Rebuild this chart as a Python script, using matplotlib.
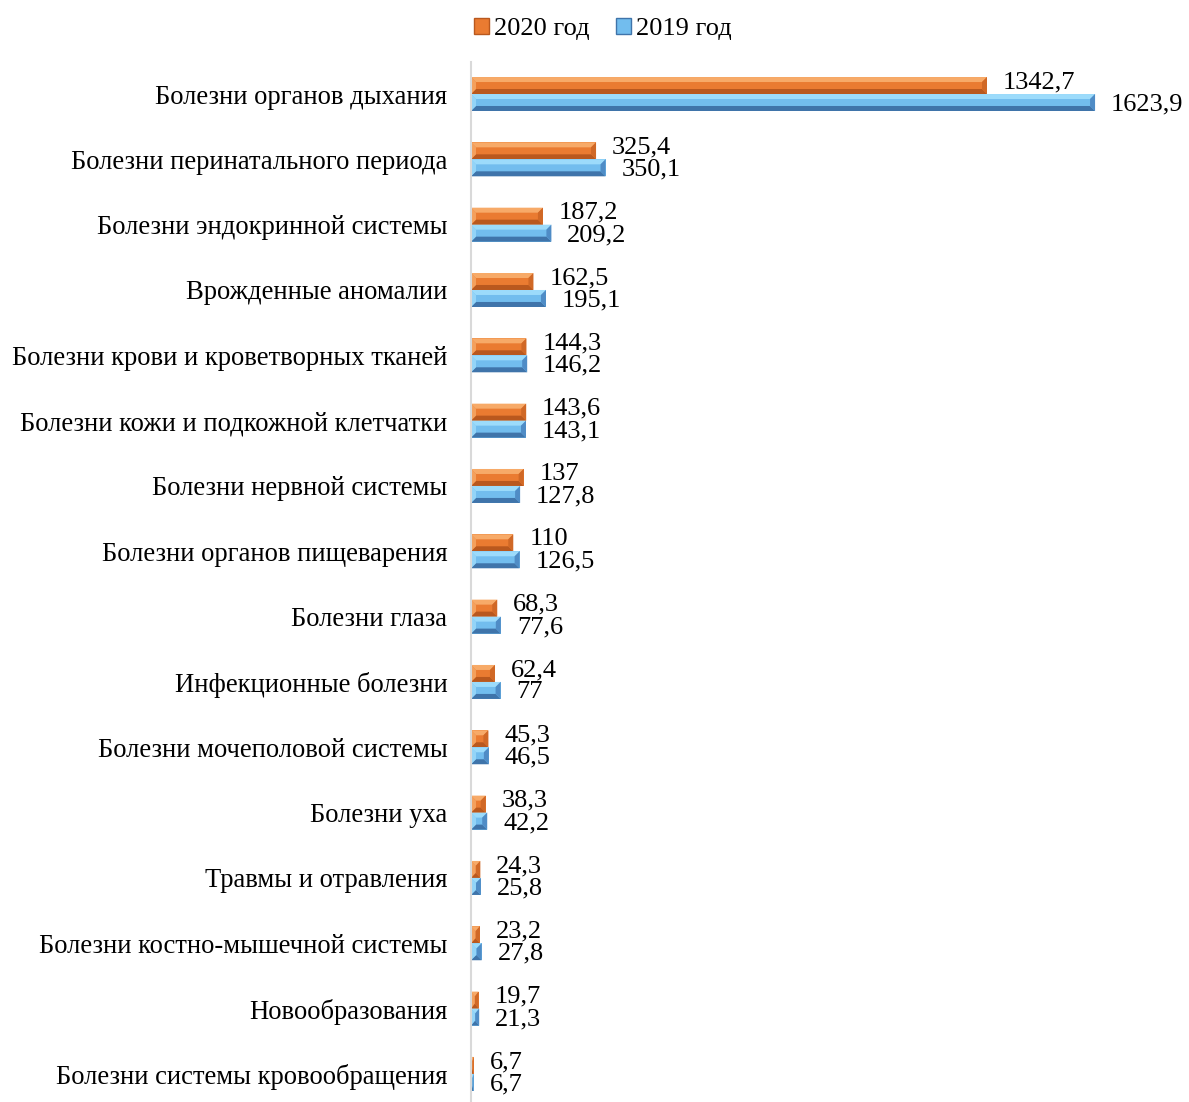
import numpy as np
import matplotlib.pyplot as plt
from matplotlib.patches import Polygon, Patch

plt.rcParams['font.family'] = ['Liberation Serif', 'DejaVu Serif']

categories = [
    'Болезни органов дыхания',
    'Болезни перинатального периода',
    'Болезни эндокринной системы',
    'Врожденные аномалии',
    'Болезни крови и кроветворных тканей',
    'Болезни кожи и подкожной клетчатки',
    'Болезни нервной системы',
    'Болезни органов пищеварения',
    'Болезни глаза',
    'Инфекционные болезни',
    'Болезни мочеполовой системы',
    'Болезни уха',
    'Травмы и отравления',
    'Болезни костно-мышечной системы',
    'Новообразования',
    'Болезни системы кровообращения',
]
vals_2020 = [1342.7, 325.4, 187.2, 162.5, 144.3, 143.6, 137, 110, 68.3, 62.4,
             45.3, 38.3, 24.3, 23.2, 19.7, 6.7]
vals_2019 = [1623.9, 350.1, 209.2, 195.1, 146.2, 143.1, 127.8, 126.5, 77.6, 77,
             46.5, 42.2, 25.8, 27.8, 21.3, 6.7]

# colours: main, light (top), dark (bottom), side
orange = ('#EA7B31', '#F7AA68', '#B9581E', '#D06826')
blue = ('#72BDEE', '#9CDBFB', '#3F74AA', '#4F8CC6')

W, H = 1189, 1102
fig = plt.figure(figsize=(W / 100, H / 100), dpi=100)
ax_left, ax_top = 471, 62
ax = fig.add_axes([ax_left / W, 0, (W - ax_left) / W, (H - ax_top) / H])

px_per_val = 0.3843
xmax = (W - ax_left) / px_per_val
step_px = 65.33
n = len(categories)
ax.set_xlim(0, xmax)
ax.set_ylim(n - 1 + 0.43, -0.49)

pos = np.arange(n)
h = 0.26


def fmt(v):
    return ('%g' % v).replace('.', ',')


def bevel_bar(y_center, v, cols):
    yt, yb = y_center - h / 2, y_center + h / 2
    ax.barh(y_center, v, height=h, color=cols[0], linewidth=0)
    dx = min(5 / px_per_val, v / 2)
    dy = 5 / step_px
    ax.add_patch(Polygon([(0, yt), (v, yt), (v - dx, yt + dy), (dx, yt + dy)],
                         closed=True, facecolor=cols[1], linewidth=0))
    ax.add_patch(Polygon([(0, yb), (v, yb), (v - dx, yb - dy), (dx, yb - dy)],
                         closed=True, facecolor=cols[2], linewidth=0))
    ax.add_patch(Polygon([(v, yt), (v, yb), (v - dx, yb - dy), (v - dx, yt + dy)],
                         closed=True, facecolor=cols[3], linewidth=0))
    ax.add_patch(Polygon([(0, yt), (0, yb), (dx, yb - dy), (dx, yt + dy)],
                         closed=True, facecolor=cols[1], linewidth=0, alpha=0.8))


for i in range(n):
    bevel_bar(pos[i] - h / 2, vals_2020[i], orange)
    bevel_bar(pos[i] + h / 2, vals_2019[i], blue)
    ax.annotate(fmt(vals_2020[i]), (vals_2020[i], pos[i]), xytext=(11.5, 8.5),
                textcoords='offset points', va='center', ha='left', fontsize=19)
    ax.annotate(fmt(vals_2019[i]), (vals_2019[i], pos[i]), xytext=(11.5, -7.5),
                textcoords='offset points', va='center', ha='left', fontsize=19)

ax.set_yticks(pos)
ax.set_yticklabels(categories, fontsize=19.2)
ax.tick_params(axis='y', length=0, pad=17)
ax.set_xticks([])
for s in ['top', 'right', 'bottom']:
    ax.spines[s].set_visible(False)
ax.spines['left'].set_color('#d9d9d9')
ax.spines['left'].set_linewidth(1.5)

handles = [Patch(facecolor=orange[0], edgecolor=orange[2], label='2020 год'),
           Patch(facecolor=blue[0], edgecolor=blue[2], label='2019 год')]
fig.legend(handles=handles, loc='center', bbox_to_anchor=(603 / W, 1 - 29 / H),
           ncol=2, frameon=False, fontsize=19, handlelength=0.55,
           handleheight=0.55, handletextpad=0.2, columnspacing=1.0)

plt.savefig('out.png', dpi=100)
